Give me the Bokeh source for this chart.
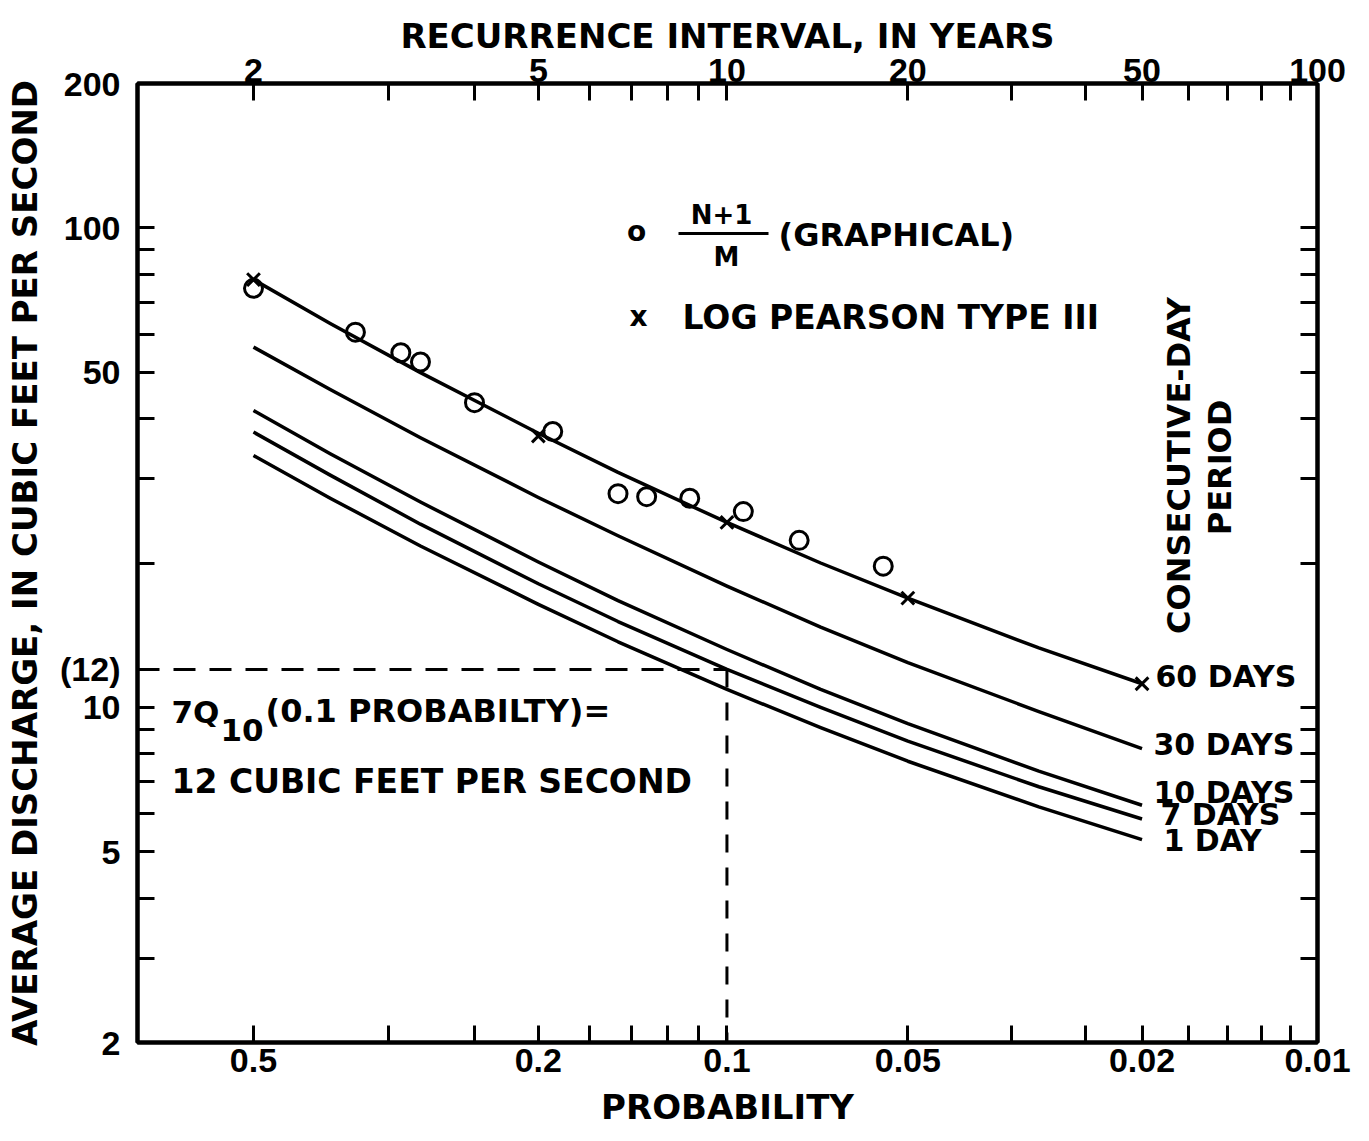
import math
from bokeh.plotting import figure
from bokeh.models import (LinearAxis, LogAxis, FixedTicker, CustomJSTickFormatter,
                          Label, BoxAnnotation, Range1d)
from bokeh.embed import file_html
from bokeh.resources import INLINE

# ---------------- data ----------------
prob_nodes = [0.5, 0.4, 0.3, 0.2, 0.15, 0.1, 0.07, 0.05, 0.03, 0.02]
q_60day = [78.0, 63.2, 49.9, 37.3, 30.9, 24.3, 20.0, 16.9, 13.3, 11.2]
q_30day = [56.4, 46.0, 36.5, 27.4, 22.8, 17.9, 14.7, 12.4, 9.8, 8.2]
q_10day = [41.6, 33.8, 26.8, 20.1, 16.7, 13.2, 10.9, 9.25, 7.36, 6.25]
q_7day = [37.5, 30.5, 24.1, 18.1, 15.1, 12.0, 10.0, 8.5, 6.83, 5.85]
q_1day = [33.5, 27.3, 21.7, 16.4, 13.7, 10.9, 9.07, 7.72, 6.2, 5.3]

graphical_prob = [0.5, 0.37, 0.32, 0.30, 0.25, 0.19, 0.15, 0.135, 0.115, 0.094, 0.076, 0.055]
graphical_q = [74.8, 60.6, 54.9, 52.5, 43.2, 37.6, 27.9, 27.5, 27.3, 25.6, 22.3, 19.7]

lp3_prob = [0.5, 0.2, 0.1, 0.05, 0.02]
lp3_q = [78.0, 36.8, 24.3, 16.9, 11.2]

q7_10 = 12
p_7q10 = 0.1

recurrence_ticks = [2, 3, 4, 5, 6, 7, 8, 9, 10, 20, 30, 40, 50, 60, 70, 80, 90, 100]
recurrence_labels = [2, 5, 10, 20, 50, 100]
prob_labels = [0.5, 0.2, 0.1, 0.05, 0.02, 0.01]
q_ticks_left = [2, 3, 4, 5, 6, 7, 8, 9, 10, 12, 20, 30, 40, 50, 60, 70, 80, 90, 100, 200]
q_ticks_right = [3, 4, 5, 6, 7, 8, 9, 10, 20, 30, 40, 50, 60, 70, 80, 90, 100]
q_label_vals = [200, 100, 50, 12, 10, 5, 2]
q_label_text = ["200", "100", "50", "(12)", "10", "5", "2"]


def gum(p):
    """Extreme-value (Gumbel) probability scale position for exceedance probability p."""
    return -math.log(-math.log(1.0 - p))


x_ticks = [gum(1.0 / t) for t in recurrence_ticks]

W, H = 1369, 1141
L, R, T, B = 137, 1317, 83, 1042   # frame edges in page pixels

p = figure(width=W, height=H, output_backend="svg", toolbar_location=None,
           title=None, y_axis_type="log",
           x_range=Range1d(-0.095, gum(0.01)), y_range=Range1d(2, 200),
           min_border_left=L, min_border_right=W - R,
           min_border_top=T, min_border_bottom=H - B)
p.background_fill_color = "white"
p.border_fill_color = "white"
p.grid.visible = False
p.outline_line_color = "black"
p.outline_line_width = 4

bottom_fmt = CustomJSTickFormatter(args=dict(labs=prob_labels), code="""
const pr = 1 - Math.exp(-Math.exp(-tick));
for (const v of labs) { if (Math.abs(pr - v) < 1e-6) return String(v); }
return "";
""")
top_fmt = CustomJSTickFormatter(args=dict(labs=recurrence_labels), code="""
const T = 1 / (1 - Math.exp(-Math.exp(-tick)));
for (const v of labs) { if (Math.abs(T - v) < 1e-6 * v) return String(v); }
return "";
""")
left_fmt = CustomJSTickFormatter(args=dict(vals=q_label_vals, texts=q_label_text), code="""
for (let i = 0; i < vals.length; i++) { if (Math.abs(tick - vals[i]) < 1e-6) return texts[i]; }
return "";
""")
blank_fmt = CustomJSTickFormatter(code="return '';")


def style_axis(ax, ticks, fmt, lab_standoff, title_standoff):
    ax.ticker = FixedTicker(ticks=ticks, minor_ticks=[])
    ax.formatter = fmt
    ax.major_tick_in = 17
    ax.major_tick_out = 0
    ax.minor_tick_in = 0
    ax.minor_tick_out = 0
    ax.major_tick_line_width = 3
    ax.major_tick_line_color = "black"
    ax.axis_line_width = 4
    ax.axis_line_color = "black"
    ax.major_label_text_font = "Liberation Sans"
    ax.major_label_text_font_style = "bold"
    ax.major_label_text_font_size = "34px"
    ax.major_label_text_color = "black"
    ax.major_label_standoff = lab_standoff
    ax.axis_label_text_font = "DejaVu Sans"
    ax.axis_label_text_font_style = "bold"
    ax.axis_label_text_font_size = "34px"
    ax.axis_label_text_color = "black"
    ax.axis_label_standoff = title_standoff


xb = p.xaxis[0]
style_axis(xb, x_ticks, bottom_fmt, 6, 12)
xb.axis_label = "PROBABILITY"

yl = p.yaxis[0]
style_axis(yl, q_ticks_left, left_fmt, 17, 12)
yl.axis_label = "AVERAGE DISCHARGE, IN CUBIC FEET PER SECOND"

xt = LinearAxis()
style_axis(xt, x_ticks, top_fmt, 2, 0)
xt.axis_label = "RECURRENCE INTERVAL, IN YEARS"
p.add_layout(xt, "above")

yr = LogAxis()
style_axis(yr, q_ticks_right, blank_fmt, 0, 0)
p.add_layout(yr, "right")

# ---------------- curves ----------------
gx = [gum(v) for v in prob_nodes]
for q in (q_60day, q_30day, q_10day, q_7day, q_1day):
    p.line(gx, q, line_color="black", line_width=3.5, line_join="round")

# 7Q10 guide lines
x0 = p.x_range.start
p.line([x0, gum(p_7q10)], [q7_10, q7_10], line_color="black", line_width=3, line_dash="22 14")
p.line([gum(p_7q10), gum(p_7q10)], [q7_10, p.y_range.start], line_color="black",
       line_width=3, line_dash="18 15")

# points
p.scatter([gum(v) for v in graphical_prob], graphical_q, marker="circle", size=18,
          fill_color=None, line_color="black", line_width=3)
p.scatter([gum(v) for v in lp3_prob], lp3_q, marker="x", size=18,
          line_color="black", line_width=3)


# ---------------- text annotations ----------------
def add_text(txt, px, py, size, align="left", angle=0.0, style="bold", font="DejaVu Sans"):
    p.add_layout(Label(x=px - L, y=B - py, x_units="screen", y_units="screen", text=txt,
                       text_font=font, text_font_size=f"{size}px", text_font_style=style,
                       text_align=align, text_baseline="middle", angle=angle,
                       text_color="black"))


# legend
add_text("o", 636, 231, 28, align="center")
add_text("N+1", 721, 214, 26, align="center")
p.add_layout(BoxAnnotation(left=678 - L, right=768 - L, top=B - 231.5, bottom=B - 234.5,
                           left_units="screen", right_units="screen",
                           top_units="screen", bottom_units="screen",
                           fill_color="black", fill_alpha=1.0, line_color=None))
add_text("M", 726, 256, 26, align="center")
add_text("(GRAPHICAL)", 778, 234, 32)
add_text("x", 638, 316, 28, align="center")
add_text("LOG PEARSON TYPE III", 682, 317, 33)

# 7Q10 note
add_text("7Q", 171, 711, 31)
add_text("10", 220, 729, 31)
add_text("(0.1 PROBABILTY)=", 265, 710, 32)
add_text("12 CUBIC FEET PER SECOND", 171, 781, 33)

# curve labels
add_text("60 DAYS", 1155, 676, 30)
add_text("30 DAYS", 1153, 744, 30)
add_text("10 DAYS", 1153, 792, 30)
add_text("7 DAYS", 1160, 814, 30)
add_text("1 DAY", 1163, 840, 30)
add_text("CONSECUTIVE-DAY", 1178, 465, 32, align="center", angle=math.pi / 2)
add_text("PERIOD", 1219, 467, 32, align="center", angle=math.pi / 2)

open("out.html", "w").write(file_html(p, INLINE))
